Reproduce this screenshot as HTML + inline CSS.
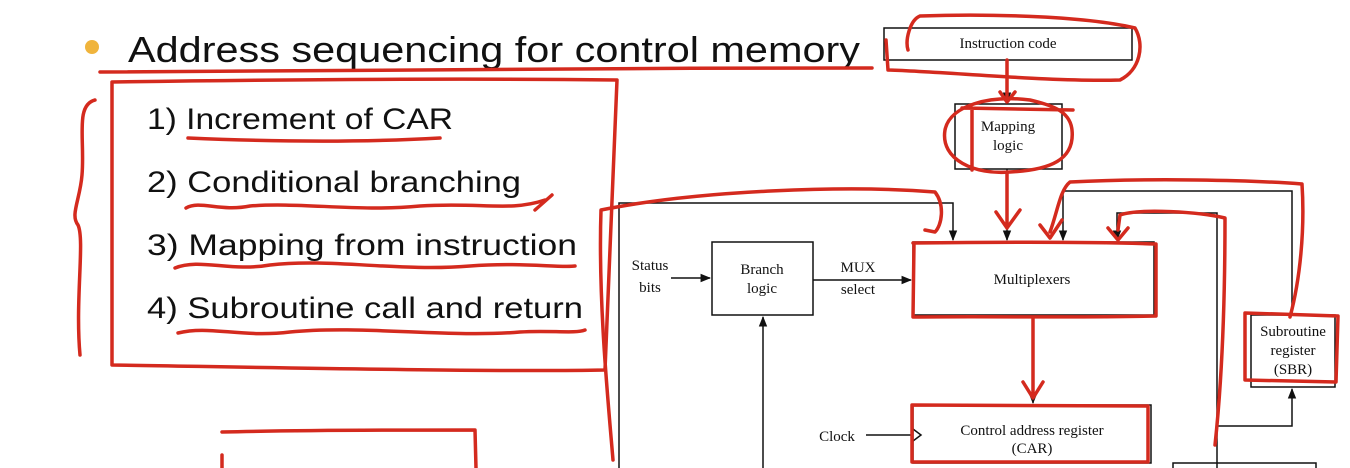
<!DOCTYPE html>
<html><head><meta charset="utf-8"><style>
html,body{margin:0;padding:0;background:#fff;}
svg{display:block;}
.t{font-family:"Liberation Sans",sans-serif;fill:#111;}
.s{font-family:"Liberation Serif",serif;fill:#111;font-size:15px;}
.k{stroke:#111;stroke-width:1.5;fill:none;}
.r{stroke:#d42a1e;stroke-width:3.5;fill:none;stroke-linecap:round;stroke-linejoin:round;}
</style></head><body>
<svg width="1350" height="468" viewBox="0 0 1350 468" xmlns="http://www.w3.org/2000/svg">
<defs><marker id="a" viewBox="0 0 10 10" refX="9" refY="5" markerWidth="7" markerHeight="7" orient="auto"><path d="M0,1 L10,5 L0,9 z" fill="#111"/></marker></defs>
<circle cx="92" cy="47" r="7" fill="#f0b43c"/>
<text class="t" x="128" y="62" font-size="36" textLength="732" lengthAdjust="spacingAndGlyphs">Address sequencing for control memory</text>
<text class="t" x="147" y="129" font-size="30" textLength="306" lengthAdjust="spacingAndGlyphs">1) Increment of CAR</text>
<text class="t" x="147" y="192" font-size="30" textLength="374" lengthAdjust="spacingAndGlyphs">2) Conditional branching</text>
<text class="t" x="147" y="255" font-size="30" textLength="430" lengthAdjust="spacingAndGlyphs">3) Mapping from instruction</text>
<text class="t" x="147" y="318" font-size="30" textLength="436" lengthAdjust="spacingAndGlyphs">4) Subroutine call and return</text>

<!-- diagram black -->
<rect class="k" x="884" y="28" width="248" height="32"/>
<text class="s" x="1008" y="48" text-anchor="middle">Instruction code</text>
<rect class="k" x="955" y="104" width="107" height="65"/>
<text class="s" x="1008" y="131" text-anchor="middle">Mapping</text>
<text class="s" x="1008" y="150" text-anchor="middle">logic</text>
<line class="k" x1="1007" y1="60" x2="1007" y2="102" marker-end="url(#a)"/>
<line class="k" x1="1007" y1="169" x2="1007" y2="240" marker-end="url(#a)"/>
<rect class="k" x="913" y="242" width="241" height="73"/>
<text class="s" x="1032" y="284" text-anchor="middle">Multiplexers</text>
<rect class="k" x="712" y="242" width="101" height="73"/>
<text class="s" x="762" y="274" text-anchor="middle">Branch</text>
<text class="s" x="762" y="293" text-anchor="middle">logic</text>
<text class="s" x="650" y="270" text-anchor="middle">Status</text>
<text class="s" x="650" y="292" text-anchor="middle">bits</text>
<line class="k" x1="671" y1="278" x2="710" y2="278" marker-end="url(#a)"/>
<text class="s" x="858" y="272" text-anchor="middle">MUX</text>
<text class="s" x="858" y="294" text-anchor="middle">select</text>
<line class="k" x1="813" y1="280" x2="911" y2="280" marker-end="url(#a)"/>
<polyline class="k" points="619,468 619,203 953,203 953,240" marker-end="url(#a)"/>
<line class="k" x1="763" y1="468" x2="763" y2="317" marker-end="url(#a)"/>
<polyline class="k" points="1292,315 1292,191 1063,191 1063,240" marker-end="url(#a)"/>
<polyline class="k" points="1217,468 1217,213 1117,213 1117,240" marker-end="url(#a)"/>
<polyline class="k" points="1217,426 1292,426 1292,389" marker-end="url(#a)"/>
<rect class="k" x="1251" y="315" width="84" height="72"/>
<text class="s" x="1293" y="336" text-anchor="middle">Subroutine</text>
<text class="s" x="1293" y="355" text-anchor="middle">register</text>
<text class="s" x="1293" y="374" text-anchor="middle">(SBR)</text>
<line class="k" x1="1033" y1="315" x2="1033" y2="403" marker-end="url(#a)"/>
<rect class="k" x="913" y="405" width="238" height="58"/>
<text class="s" x="1032" y="435" text-anchor="middle">Control address register</text>
<text class="s" x="1032" y="453" text-anchor="middle">(CAR)</text>
<text class="s" x="837" y="441" text-anchor="middle">Clock</text>
<line class="k" x1="866" y1="435" x2="911" y2="435"/>
<polyline class="k" points="913,429 921,435 913,441"/>
<rect class="k" x="1173" y="463" width="143" height="10"/>

<!-- red annotations -->
<path class="r" d="M100,72 C300,70 600,68 872,68"/>
<path class="r" d="M95,100 C75,105 85,140 82,175 C80,200 70,215 78,225 C85,240 75,300 80,355"/>
<path class="r" d="M112,82 L112,365 C300,368 500,372 605,370 L617,80 C450,78 250,80 112,82"/>
<path class="r" d="M188,138 C280,142 370,142 440,138"/>
<path class="r" d="M186,208 C200,200 220,212 250,206 C300,202 360,212 420,206 C480,202 510,212 545,200 M535,210 L552,195"/>
<path class="r" d="M175,268 C200,258 230,272 270,265 C330,258 400,272 470,266 C520,262 560,268 575,266"/>
<path class="r" d="M178,333 C210,325 240,338 290,332 C360,325 450,338 520,332 C550,330 575,334 585,330"/>
<path class="r" d="M222,432 C300,430 400,430 475,430 L476,468 M222,455 L222,468"/>
<path class="r" d="M908,50 C905,40 910,20 920,16 C980,14 1080,15 1135,28 C1145,45 1140,70 1120,80 C1050,82 950,72 888,70 L886,40"/>
<path class="r" d="M1007,60 L1007,100 M1000,92 L1007,102 L1015,92"/>
<path class="r" d="M1030,100 C990,95 950,105 945,130 C940,160 975,175 1010,172 C1050,170 1075,160 1072,130 C1070,110 1050,105 1030,100 M972,108 L972,170 M962,108 L1073,110"/>
<path class="r" d="M1007,172 L1007,228 M996,212 L1007,228 L1020,210"/>
<path class="r" d="M613,460 C608,400 598,300 601,210 C700,190 850,185 935,192 C945,205 942,225 935,232 L925,230"/>
<path class="r" d="M1050,232 C1058,210 1060,190 1070,182 C1150,178 1250,180 1302,184 C1305,230 1300,280 1290,317"/>
<path class="r" d="M1040,225 L1050,238 L1062,220"/>
<path class="r" d="M1215,445 C1222,380 1225,300 1225,218 C1200,212 1140,208 1120,215 L1118,230 M1108,228 L1118,240 L1128,228"/>
<path class="r" d="M913,243 C1000,242 1100,242 1156,244 L1156,316 C1080,318 990,316 913,317 L914,243"/>
<path class="r" d="M1033,318 L1033,395 M1023,382 L1033,398 L1043,382"/>
<path class="r" d="M912,405 L1148,406 L1148,462 L912,462 L912,405"/>
<path class="r" d="M1245,313 L1338,316 L1336,382 L1245,380 L1245,313"/>
</svg>
</body></html>
